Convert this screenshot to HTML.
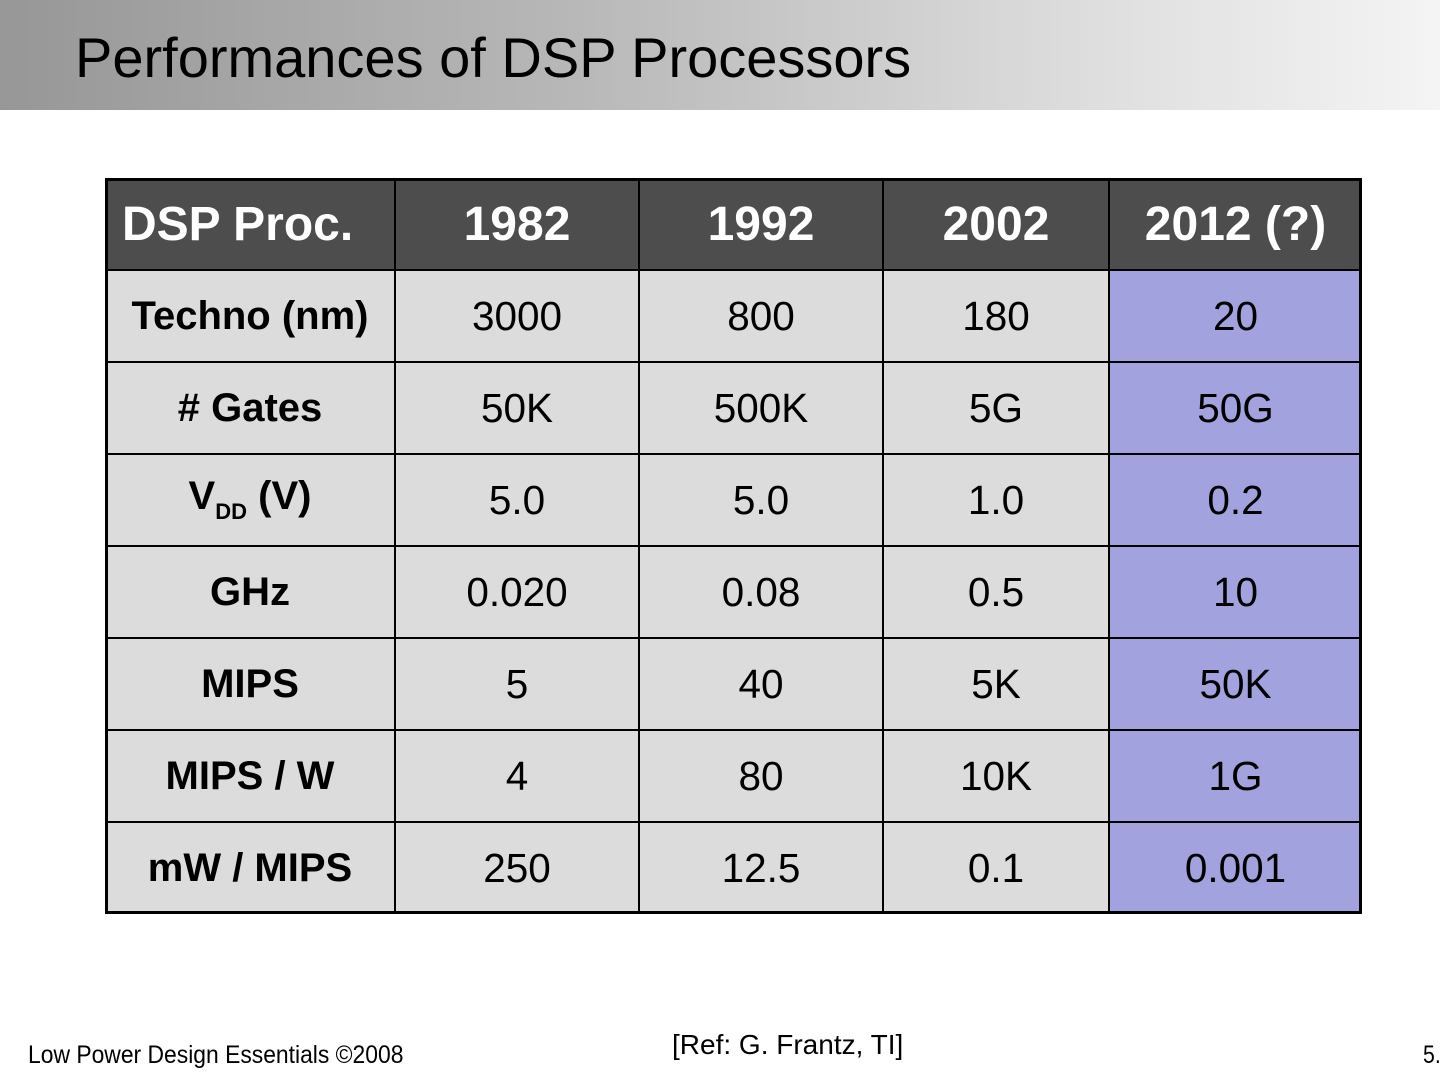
<!DOCTYPE html>
<html><head><meta charset="utf-8"><style>
*{margin:0;padding:0;box-sizing:border-box}
body{width:1440px;height:1080px;background:#fff;position:relative;overflow:hidden;font-family:"Liberation Sans",sans-serif}
.hdr{position:absolute;left:0;top:0;width:1440px;height:110px;background:linear-gradient(90deg,#979797 0%,#b8b8b8 40%,#e2e2e2 80%,#f4f4f4 100%)}
.title{position:absolute;left:75px;top:25px;font-size:56px;color:#000;white-space:nowrap}
.c{position:absolute;display:flex;align-items:center;justify-content:center;font-size:40.5px;color:#000}
.h{background:#4d4d4d;color:#fff;font-weight:bold;font-size:48px}
.b{background:#dcdcdc}
.p{background:#a2a2df}
.f{font-weight:bold;font-size:40px}
.v{position:absolute;background:#000}
</style></head><body>
<div class="hdr"></div>
<div class="title">Performances of DSP Processors</div>
<div id="t"></div>
<div style="position:absolute;left:28px;top:1041px;font-size:25px;transform:scaleX(0.915);transform-origin:left;white-space:nowrap">Low Power Design Essentials ©2008</div>
<div style="position:absolute;left:672px;top:1029px;font-size:28px;white-space:nowrap">[Ref: G. Frantz, TI]</div>
<div style="position:absolute;left:1423px;top:1041px;font-size:25px;transform:scaleX(0.85);transform-origin:left">5.</div>
<script>
var X=[105,395,639,883,1109,1362],Y=[178,270,362,454,546,638,730,822,914];
var d=[["DSP Proc.","1982","1992","2002","2012 (?)"],
["Techno (nm)","3000","800","180","20"],
["# Gates","50K","500K","5G","50G"],
["<span>V<sub style='font-size:22px;vertical-align:-10px'>DD</sub> (V)</span>","5.0","5.0","1.0","0.2"],
["GHz","0.020","0.08","0.5","10"],
["MIPS","5","40","5K","50K"],
["MIPS / W","4","80","10K","1G"],
["mW / MIPS","250","12.5","0.1","0.001"]];
var h="";
for(var r=0;r<8;r++)for(var c=0;c<5;c++){
var cls=r==0?"h":(c==4?"p":"b");if(r>0&&c==0)cls+=" f";
var st="left:"+X[c]+"px;top:"+Y[r]+"px;width:"+(X[c+1]-X[c])+"px;height:"+(Y[r+1]-Y[r])+"px;";
if(r==0&&c==0)st+="justify-content:flex-start;padding-left:17px;";
if(r==3&&c==0)st+="align-items:flex-start;padding-top:20px;";
h+="<div class='c "+cls+"' style='"+st+"'>"+d[r][c]+"</div>";}
for(var i=1;i<5;i++)h+="<div class='v' style='left:"+(X[i]-1)+"px;top:178px;width:2px;height:736px'></div>";
for(var j=1;j<8;j++)h+="<div class='v' style='left:105px;top:"+(Y[j]-1)+"px;width:1257px;height:2px'></div>";
h+="<div style='position:absolute;left:105px;top:178px;width:1257px;height:736px;border:3px solid #000'></div>";
document.getElementById("t").innerHTML=h;
</script>
</body></html>
